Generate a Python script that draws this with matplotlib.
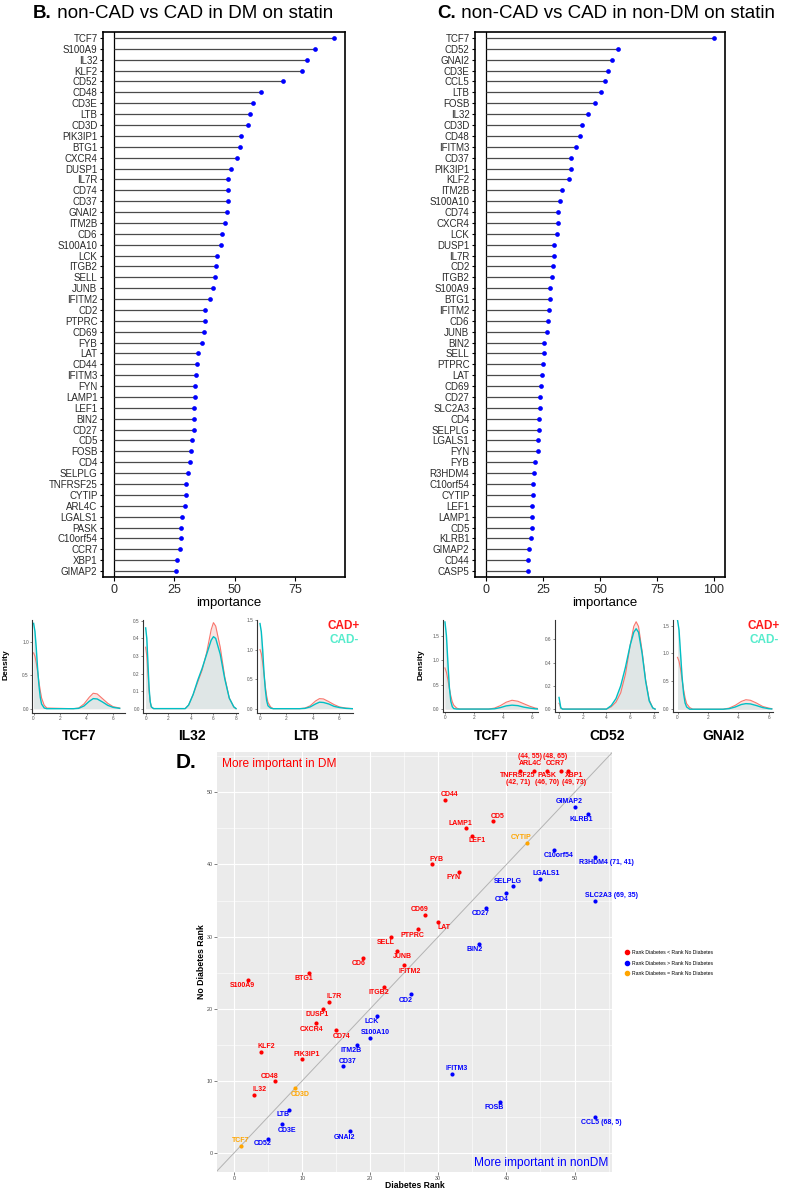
import matplotlib.pyplot as plt
from matplotlib.lines import Line2D
import numpy as np

plt.rcParams['font.family'] = ['Liberation Sans', 'DejaVu Sans']

# ---- panel B / C : feature importance (lollipop) ----
dm_genes = ['TCF7', 'S100A9', 'IL32', 'KLF2', 'CD52', 'CD48', 'CD3E', 'LTB', 'CD3D', 'PIK3IP1',
            'BTG1', 'CXCR4', 'DUSP1', 'IL7R', 'CD74', 'CD37', 'GNAI2', 'ITM2B', 'CD6', 'S100A10',
            'LCK', 'ITGB2', 'SELL', 'JUNB', 'IFITM2', 'CD2', 'PTPRC', 'CD69', 'FYB', 'LAT',
            'CD44', 'IFITM3', 'FYN', 'LAMP1', 'LEF1', 'BIN2', 'CD27', 'CD5', 'FOSB', 'CD4',
            'SELPLG', 'TNFRSF25', 'CYTIP', 'ARL4C', 'LGALS1', 'PASK', 'C10orf54', 'CCR7', 'XBP1', 'GIMAP2']
dm_importance = [91.2, 83.3, 80.0, 77.8, 69.9, 60.8, 57.7, 56.5, 55.7, 52.8,
                 52.1, 50.8, 48.3, 47.4, 47.4, 47.3, 46.7, 46.0, 44.6, 44.5,
                 42.8, 42.3, 42.0, 40.9, 39.9, 37.7, 37.6, 37.3, 36.3, 34.9,
                 34.5, 33.8, 33.6, 33.5, 33.1, 33.1, 33.0, 32.3, 31.8, 31.5,
                 30.7, 29.8, 29.7, 29.3, 28.0, 27.9, 27.6, 27.3, 26.2, 25.8]

nondm_genes = ['TCF7', 'CD52', 'GNAI2', 'CD3E', 'CCL5', 'LTB', 'FOSB', 'IL32', 'CD3D', 'CD48',
               'IFITM3', 'CD37', 'PIK3IP1', 'KLF2', 'ITM2B', 'S100A10', 'CD74', 'CXCR4', 'LCK', 'DUSP1',
               'IL7R', 'CD2', 'ITGB2', 'S100A9', 'BTG1', 'IFITM2', 'CD6', 'JUNB', 'BIN2', 'SELL',
               'PTPRC', 'LAT', 'CD69', 'CD27', 'SLC2A3', 'CD4', 'SELPLG', 'LGALS1', 'FYN', 'FYB',
               'R3HDM4', 'C10orf54', 'CYTIP', 'LEF1', 'LAMP1', 'CD5', 'KLRB1', 'GIMAP2', 'CD44', 'CASP5']
nondm_importance = [100.0, 58.1, 55.2, 53.6, 52.0, 50.5, 47.9, 44.9, 42.2, 41.3,
                    39.4, 37.4, 37.1, 36.2, 33.1, 32.4, 31.4, 31.3, 31.1, 29.8,
                    29.7, 29.2, 28.9, 28.2, 28.0, 27.6, 27.0, 26.6, 25.5, 25.2,
                    25.0, 24.4, 23.9, 23.8, 23.7, 23.3, 23.1, 22.8, 22.5, 21.3,
                    21.0, 20.6, 20.3, 20.1, 20.0, 19.9, 19.7, 18.6, 18.5, 18.4]

# ---- density curves (expression value vs density), CAD+ / CAD- ----
dm_tcf7_x = [0, 0.1, 0.2, 0.3, 0.4, 0.5, 0.6, 0.8, 1.0, 3.0, 3.4, 3.8, 4.2, 4.5, 4.8, 5.2, 5.6, 6.0, 6.5]
dm_tcf7_pos = [0.83, 0.78, 0.68, 0.55, 0.40, 0.27, 0.16, 0.05, 0.01, 0.0, 0.01, 0.07, 0.17, 0.23, 0.22, 0.15, 0.08, 0.03, 0.01]
dm_tcf7_neg = [1.27, 1.15, 0.90, 0.60, 0.35, 0.17, 0.07, 0.01, 0.0, 0.0, 0.005, 0.04, 0.11, 0.15, 0.145, 0.10, 0.05, 0.02, 0.005]

dm_il32_x = [0, 0.1, 0.2, 0.3, 0.4, 0.5, 0.7, 3.5, 3.8, 4.2, 4.6, 5.0, 5.4, 5.8, 6.0, 6.2, 6.6, 7.0, 7.4, 7.8, 8.0]
dm_il32_pos = [0.35, 0.30, 0.20, 0.10, 0.04, 0.01, 0.0, 0.0, 0.02, 0.08, 0.15, 0.22, 0.32, 0.45, 0.49, 0.47, 0.35, 0.18, 0.06, 0.01, 0.0]
dm_il32_neg = [0.46, 0.40, 0.26, 0.12, 0.04, 0.01, 0.0, 0.0, 0.02, 0.08, 0.16, 0.23, 0.31, 0.39, 0.41, 0.40, 0.31, 0.17, 0.06, 0.01, 0.0]

dm_ltb_x = [0, 0.1, 0.2, 0.3, 0.4, 0.5, 0.6, 0.8, 1.0, 3.0, 3.4, 3.8, 4.2, 4.5, 4.8, 5.2, 5.6, 6.0, 6.5, 7.0]
dm_ltb_pos = [1.00, 0.93, 0.78, 0.58, 0.38, 0.22, 0.11, 0.03, 0.0, 0.0, 0.01, 0.05, 0.13, 0.17, 0.165, 0.12, 0.07, 0.03, 0.01, 0.0]
dm_ltb_neg = [1.44, 1.30, 1.00, 0.62, 0.33, 0.14, 0.05, 0.01, 0.0, 0.0, 0.005, 0.03, 0.08, 0.11, 0.105, 0.08, 0.04, 0.02, 0.005, 0.0]

nd_tcf7_x = [0, 0.1, 0.2, 0.3, 0.4, 0.5, 0.6, 0.8, 1.0, 3.0, 3.4, 3.8, 4.2, 4.6, 5.0, 5.4, 5.8, 6.2, 6.4]
nd_tcf7_pos = [0.84, 0.75, 0.60, 0.42, 0.27, 0.15, 0.08, 0.02, 0.0, 0.0, 0.02, 0.07, 0.14, 0.18, 0.16, 0.11, 0.06, 0.02, 0.01]
nd_tcf7_neg = [1.78, 1.50, 0.95, 0.45, 0.16, 0.05, 0.01, 0.0, 0.0, 0.0, 0.005, 0.03, 0.065, 0.08, 0.07, 0.04, 0.02, 0.005, 0.0]

nd_cd52_x = [0, 0.05, 0.15, 0.3, 4.0, 4.4, 4.8, 5.2, 5.6, 6.0, 6.3, 6.5, 6.7, 7.0, 7.3, 7.6, 7.9, 8.1]
nd_cd52_pos = [0.05, 0.04, 0.01, 0.0, 0.0, 0.02, 0.06, 0.14, 0.30, 0.55, 0.71, 0.75, 0.71, 0.50, 0.25, 0.08, 0.01, 0.0]
nd_cd52_neg = [0.10, 0.07, 0.01, 0.0, 0.0, 0.03, 0.09, 0.20, 0.36, 0.55, 0.66, 0.69, 0.66, 0.48, 0.24, 0.07, 0.01, 0.0]

nd_gnai2_x = [0, 0.1, 0.2, 0.3, 0.4, 0.5, 0.6, 0.8, 1.0, 3.0, 3.4, 3.8, 4.2, 4.5, 4.8, 5.2, 5.6, 6.0, 6.2]
nd_gnai2_pos = [0.93, 0.86, 0.72, 0.53, 0.35, 0.20, 0.10, 0.03, 0.0, 0.0, 0.02, 0.07, 0.14, 0.17, 0.16, 0.11, 0.05, 0.02, 0.01]
nd_gnai2_neg = [1.60, 1.42, 1.00, 0.58, 0.28, 0.11, 0.04, 0.0, 0.0, 0.0, 0.01, 0.04, 0.085, 0.10, 0.095, 0.065, 0.03, 0.01, 0.005]

# ---- panel D : rank comparison ----
rank_genes = ['TCF7', 'S100A9', 'IL32', 'KLF2', 'CD52', 'CD48', 'CD3E', 'LTB', 'CD3D', 'PIK3IP1',
              'BTG1', 'CXCR4', 'DUSP1', 'IL7R', 'CD74', 'CD37', 'GNAI2', 'ITM2B', 'CD6', 'S100A10',
              'LCK', 'ITGB2', 'SELL', 'JUNB', 'IFITM2', 'CD2', 'PTPRC', 'CD69', 'FYB', 'LAT',
              'CD44', 'IFITM3', 'FYN', 'LAMP1', 'LEF1', 'BIN2', 'CD27', 'CD5', 'FOSB', 'CD4',
              'SELPLG', 'TNFRSF25', 'CYTIP', 'ARL4C', 'LGALS1', 'PASK', 'C10orf54', 'CCR7', 'XBP1', 'GIMAP2',
              'CCL5', 'SLC2A3', 'R3HDM4', 'KLRB1']
dm_rank = [1, 2, 3, 4, 5, 6, 7, 8, 9, 10, 11, 12, 13, 14, 15, 16, 17, 18, 19, 20,
           21, 22, 23, 24, 25, 26, 27, 28, 29, 30, 31, 32, 33, 34, 35, 36, 37, 38, 39, 40,
           41, 42, 43, 44, 45, 46, 47, 48, 49, 50, 68, 69, 71, 52]
nondm_rank = [1, 24, 8, 14, 2, 10, 4, 6, 9, 13, 25, 18, 20, 21, 17, 12, 3, 15, 27, 16,
              19, 23, 30, 28, 26, 22, 31, 33, 40, 32, 49, 11, 39, 45, 44, 29, 34, 46, 7, 36,
              37, 71, 43, 55, 38, 70, 42, 65, 73, 48, 5, 35, 41, 47]

# label offsets in pixels (dx, dy)
label_offset = {
    'CD44': (4.7, 5.3), 'CD5': (5.3, 5), 'LAMP1': (-5, 5.3), 'LEF1': (4.7, -5.3), 'CYTIP': (-5.3, 5.3),
    'GIMAP2': (-5, 5), 'FYB': (5.3, 5.3), 'FYN': (-5, -5.7), 'CD69': (-5, 5.3), 'LAT': (5.3, -5.7),
    'PTPRC': (-5, -5.7), 'SELL': (-5, -5.7), 'JUNB': (5.3, -5.7), 'CD6': (-5, -5.3), 'IFITM2': (5, -6),
    'SELPLG': (-5, 5), 'CD4': (-5, -5.7), 'CD27': (-5, -5.3), 'BIN2': (-5, -5.7), 'LGALS1': (5.3, 5.3),
    'C10orf54': (5, -5.7), 'S100A9': (-5, -5.3), 'BTG1': (-5, -5.7), 'IL7R': (5, 5.3), 'DUSP1': (-5, -5.7),
    'CXCR4': (-4.7, -6), 'CD74': (5, -5.7), 'ITGB2': (-5, -5.7), 'CD2': (-5, -5.7), 'LCK': (-5, -5.7),
    'S100A10': (5.3, 5.3), 'ITM2B': (-5, -5.7), 'KLF2': (5, 5), 'PIK3IP1': (5, 5), 'CD37': (5, 5.3),
    'IFITM3': (5, 5), 'CD48': (-5, 4.7), 'CD3D': (5, -6), 'IL32': (5, 5.3), 'FOSB': (-5, -5.3),
    'LTB': (-5, -5.3), 'CD3E': (5, -6), 'GNAI2': (-5, -5.7), 'CD52': (-5, -5.3), 'TCF7': (0, 5),
    'ARL4C': (-3.5, 10.6), 'CCR7': (-5.7, 10.6), 'TNFRSF25': (-2, -8.4), 'PASK': (0, -8.4), 'XBP1': (6.5, -8.4),
    # left aligned ones
    'KLRB1': (-6.7, -5.3), 'R3HDM4': (-16.3, -5.3), 'SLC2A3': (-10.3, 4.7), 'CCL5': (-13.7, -6),
}

W, H = 787, 1194
fig = plt.figure(figsize=(W / 100, H / 100), dpi=100)
fig.patch.set_facecolor('white')


def px_axes(l, t, r, b):
    return fig.add_axes([l / W, 1 - b / H, (r - l) / W, (b - t) / H])


def ftext(x, y, s, **kw):
    return fig.text(x / W, 1 - y / H, s, **kw)


def lollipop(ax, genes, vals, xticks):
    y = np.arange(len(genes))
    xmax = max(vals)
    ax.hlines(y, 0, vals, color='#4a4a4a', lw=0.9, zorder=2)
    ax.axvline(0, color='black', lw=0.9, zorder=1)
    ax.plot(vals, y, 'o', color='#0000ff', ms=3.4, mec='none', zorder=3)
    ax.set_yticks(y, genes)
    ax.set_ylim(len(genes) - 0.45, -0.55)
    ax.set_xlim(-0.05 * xmax, 1.05 * xmax)
    ax.set_xticks(xticks)
    ax.tick_params(axis='y', labelsize=7, length=2.5, pad=1.5, labelcolor='#2a2a2a')
    ax.tick_params(axis='x', labelsize=9, length=3, pad=2, labelcolor='#2a2a2a')
    for s in ax.spines.values():
        s.set_linewidth(1.2)


ax_b = px_axes(103, 32, 345, 577)
lollipop(ax_b, dm_genes, dm_importance, [0, 25, 50, 75])
ax_c = px_axes(475, 32, 725, 577)
lollipop(ax_c, nondm_genes, nondm_importance, [0, 25, 50, 75, 100])
ftext(229, 603, 'importance', fontsize=9.5, ha='center', va='center')
ftext(605, 603, 'importance', fontsize=9.5, ha='center', va='center')

tb = ftext(33, 14, 'B.', fontsize=13.5, fontweight='bold', ha='left', va='center')
ax_b.annotate(' non-CAD vs CAD in DM on statin', xy=(1, 0), xycoords=tb, va='bottom', ha='left',
              fontsize=13.5, annotation_clip=False)
tc = ftext(437, 14, 'C.', fontsize=13.5, fontweight='bold', ha='left', va='center')
ax_c.annotate(' non-CAD vs CAD in non-DM on statin', xy=(1, 0), xycoords=tc, va='bottom', ha='left',
              fontsize=13.5, annotation_clip=False)


def density(box, x, pos, neg, xlim, ylim, yticks, ylabels, xticks, name):
    ax = px_axes(*box)
    ax.fill_between(x, pos, color='#f9e4e2', lw=0)
    ax.fill_between(x, neg, color='#dfe6e6', lw=0)
    ax.plot(x, pos, color='#f8766d', lw=0.8)
    ax.plot(x, neg, color='#00bfc4', lw=1.0)
    ax.set_xlim(*xlim)
    ax.set_ylim(*ylim)
    ax.set_yticks(yticks, ylabels)
    ax.set_xticks(xticks)
    ax.spines[['top', 'right']].set_visible(False)
    for s in ['left', 'bottom']:
        ax.spines[s].set_linewidth(0.8)
        ax.spines[s].set_color('#333333')
    ax.tick_params(labelsize=3.4, length=1.5, width=0.5, pad=1, labelcolor='#555555', color='#555555')
    ftext((box[0] + box[2]) / 2 + 1, 736, name, fontsize=10, fontweight='bold', ha='center', va='center')
    return ax


density((32.3, 620, 125, 713), dm_tcf7_x, dm_tcf7_pos, dm_tcf7_neg, (-0.1, 6.9), (-0.064, 1.32),
        [0, 0.5, 1.0], ['0.0', '0.5', '1.0'], [0, 2, 4, 6], 'TCF7')
density((143.3, 620, 238.3, 713), dm_il32_x, dm_il32_pos, dm_il32_neg, (-0.21, 8.2), (-0.025, 0.505),
        [0, 0.1, 0.2, 0.3, 0.4, 0.5], ['0.0', '0.1', '0.2', '0.3', '0.4', '0.5'], [0, 2, 4, 6, 8], 'IL32')
density((256.7, 620, 353.3, 713), dm_ltb_x, dm_ltb_pos, dm_ltb_neg, (-0.25, 7.06), (-0.073, 1.5),
        [0, 0.5, 1.0, 1.5], ['0.0', '0.5', '1.0', '1.5'], [0, 2, 4, 6], 'LTB')
density((442.5, 620, 537.5, 712), nd_tcf7_x, nd_tcf7_pos, nd_tcf7_neg, (-0.17, 6.35), (-0.06, 1.82),
        [0, 0.5, 1.0, 1.5], ['0.0', '0.5', '1.0', '1.5'], [0, 2, 4, 6], 'TCF7')
density((555, 620, 657.5, 712), nd_cd52_x, nd_cd52_pos, nd_cd52_neg, (-0.34, 8.3), (-0.025, 0.765),
        [0, 0.2, 0.4, 0.6], ['0.0', '0.2', '0.4', '0.6'], [0, 2, 4, 6, 8], 'CD52')
density((672.5, 620, 772.5, 712), nd_gnai2_x, nd_gnai2_pos, nd_gnai2_neg, (-0.33, 6.25), (-0.05, 1.6),
        [0, 0.5, 1.0, 1.5], ['0.0', '0.5', '1.0', '1.5'], [0, 2, 4, 6], 'GNAI2')

ftext(6, 665, 'Density', fontsize=6, fontweight='bold', rotation=90, ha='center', va='center')
ftext(421, 665, 'Density', fontsize=6, fontweight='bold', rotation=90, ha='center', va='center')
for xc in (344, 764):
    ftext(xc, 626, 'CAD+', fontsize=8.5, fontweight='bold', color='#ff1a1a', ha='center', va='center')
    ftext(xc, 640, 'CAD-', fontsize=8.5, fontweight='bold', color='#55eccc', ha='center', va='center')

# ---- panel D ----
ftext(186, 762, 'D.', fontsize=15, fontweight='bold', ha='center', va='center')
ax = px_axes(217, 752, 612, 1171.7)
ax.set_facecolor('#ebebeb')
ax.set_xlim(-2.5, 55.5)
ax.set_ylim(-2.6, 55.6)
ax.set_xticks(range(0, 51, 10))
ax.set_yticks(range(0, 51, 10))
ax.set_xticks(range(5, 56, 10), minor=True)
ax.set_yticks(range(5, 56, 10), minor=True)
ax.grid(which='major', color='white', lw=0.8)
ax.grid(which='minor', color='white', lw=0.4)
ax.tick_params(which='major', labelsize=3.9, length=2, width=0.5, pad=1, labelcolor='#4d4d4d', color='#4d4d4d')
ax.tick_params(which='minor', length=0)
ax.set_axisbelow(True)
for s in ax.spines.values():
    s.set_visible(False)
ax.axline((0, 0), slope=1, color='#b3b3b3', lw=0.7, zorder=1)

cap = 53
col_lt, col_gt, col_eq = '#ff0000', '#0000ff', '#ffa500'
for g, dr, nr in zip(rank_genes, dm_rank, nondm_rank):
    c = col_lt if dr < nr else (col_gt if dr > nr else col_eq)
    xp, yp = min(dr, cap), min(nr, cap)
    ax.scatter(xp, yp, s=9, color=c, lw=0, zorder=3)
    ha = 'center'
    if dr > cap:
        txt = f'{g} ({dr}, {nr})'
        ha = 'left'
    elif nr > cap:
        if label_offset[g][1] > 0:
            txt = f'({dr}, {nr})\n{g}'
        else:
            txt = f'{g}\n({dr}, {nr})'
    else:
        txt = g
    ax.annotate(txt, (xp, yp), xytext=label_offset[g], textcoords='offset pixels', ha=ha, va='center',
                fontsize=5, fontweight='bold', color=c, linespacing=0.95, zorder=4, annotation_clip=False)

ftext(222, 764, 'More important in DM', fontsize=8.6, color=col_lt, ha='left', va='center')
ftext(608.7, 1162.7, 'More important in nonDM', fontsize=8.6, color=col_gt, ha='right', va='center')
ftext(202, 962, 'No Diabetes Rank', fontsize=6.3, fontweight='bold', rotation=90, ha='center', va='center')
ftext(414.7, 1185, 'Diabetes Rank', fontsize=6.2, fontweight='bold', ha='center', va='center')

handles = [Line2D([], [], marker='o', ls='none', color=c, ms=3) for c in (col_lt, col_gt, col_eq)]
labels = ['Rank Diabetes < Rank No Diabetes', 'Rank Diabetes > Rank No Diabetes',
          'Rank Diabetes = Rank No Diabetes']
ax.legend(handles, labels, loc='center left', bbox_to_anchor=((622 - 217) / 395, 0.497), frameon=False,
          fontsize=3.7, handlelength=1.0, handletextpad=0.6, labelspacing=1.1, borderaxespad=0)

fig.savefig('out.png', dpi=100)
